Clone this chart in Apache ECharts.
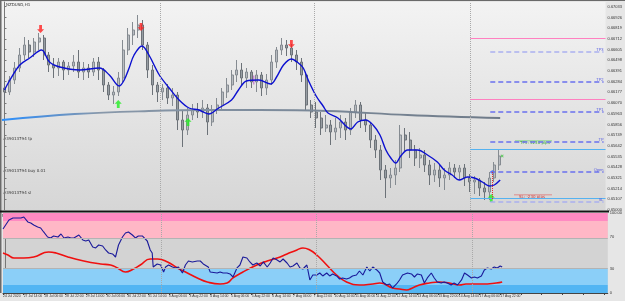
<!DOCTYPE html>
<html lang="en">
<head>
<meta charset="utf-8" />
<title>NZDUSD,H1</title>
<script src="https://cdn.jsdelivr.net/npm/echarts@6/dist/echarts.min.js"></script>
<style>
  html, body { margin: 0; padding: 0; background: #e6e6e6; }
  #chartmain { width: 625px; height: 301px; }
</style>
</head>
<body>
<div id="chartmain"></div>
<script>
// price bars (thinned H1 candles)
var opens = [0.6622,0.6618,0.6630,0.6642,0.6655,0.6665,0.6658,0.6668,0.6672,0.6655,
  0.6645,0.6642,0.6648,0.6640,0.6644,0.6648,0.6638,0.6642,0.6638,0.6648,
  0.6640,0.6625,0.6615,0.6618,0.6632,0.6660,0.6675,0.6680,0.6685,0.6665,
  0.6640,0.6625,0.6618,0.6622,0.6612,0.6615,0.6590,0.6580,0.6595,0.6600,
  0.6598,0.6602,0.6588,0.6600,0.6605,0.6618,0.6625,0.6635,0.6640,0.6632,
  0.6638,0.6628,0.6635,0.6622,0.6630,0.6648,0.6660,0.6665,0.6662,0.6655,
  0.6648,0.6635,0.6605,0.6598,0.6592,0.6582,0.6585,0.6578,0.6582,0.6588,
  0.6580,0.6598,0.6605,0.6590,0.6585,0.6570,0.6560,0.6540,0.6532,0.6535,
  0.6542,0.6575,0.6570,0.6560,0.6552,0.6555,0.6545,0.6535,0.6540,0.6532,
  0.6535,0.6542,0.6538,0.6542,0.6532,0.6528,0.6530,0.6522,0.6518,0.6532,
  0.6545];
var closes = [0.6618,0.6630,0.6642,0.6655,0.6665,0.6658,0.6668,0.6672,0.6655,0.6645,
  0.6642,0.6648,0.6640,0.6644,0.6648,0.6638,0.6642,0.6638,0.6648,0.6640,
  0.6625,0.6615,0.6618,0.6632,0.6660,0.6675,0.6680,0.6685,0.6665,0.6640,
  0.6625,0.6618,0.6622,0.6612,0.6615,0.6590,0.6580,0.6595,0.6600,0.6598,
  0.6602,0.6588,0.6600,0.6605,0.6618,0.6625,0.6635,0.6640,0.6632,0.6638,
  0.6628,0.6635,0.6622,0.6630,0.6648,0.6660,0.6665,0.6662,0.6655,0.6648,
  0.6635,0.6605,0.6598,0.6592,0.6582,0.6585,0.6578,0.6582,0.6588,0.6580,
  0.6598,0.6605,0.6590,0.6585,0.6570,0.6560,0.6540,0.6532,0.6535,0.6542,
  0.6575,0.6570,0.6560,0.6552,0.6555,0.6545,0.6535,0.6540,0.6532,0.6535,
  0.6542,0.6538,0.6542,0.6532,0.6528,0.6530,0.6522,0.6518,0.6532,0.6545,
  0.6554];
var lows = [0.6610,0.6615,0.6626,0.6638,0.6650,0.6652,0.6653,0.6660,0.6650,0.6638,
  0.6632,0.6634,0.6630,0.6635,0.6638,0.6632,0.6630,0.6632,0.6634,0.6630,
  0.6618,0.6610,0.6606,0.6614,0.6628,0.6655,0.6665,0.6672,0.6660,0.6632,
  0.6615,0.6608,0.6610,0.6606,0.6604,0.6580,0.6563,0.6575,0.6590,0.6592,
  0.6592,0.6575,0.6584,0.6596,0.6600,0.6612,0.6620,0.6628,0.6625,0.6622,
  0.6622,0.6618,0.6614,0.6615,0.6625,0.6642,0.6655,0.6654,0.6648,0.6640,
  0.6628,0.6600,0.6592,0.6582,0.6575,0.6578,0.6565,0.6570,0.6572,0.6570,
  0.6575,0.6592,0.6582,0.6578,0.6562,0.6552,0.6530,0.6512,0.6522,0.6525,
  0.6538,0.6558,0.6552,0.6544,0.6542,0.6538,0.6525,0.6528,0.6523,0.6520,
  0.6530,0.6532,0.6530,0.6524,0.6518,0.6516,0.6514,0.6510,0.6510,0.6528,
  0.6540];
var highs = [0.6630,0.6634,0.6648,0.6662,0.6673,0.6670,0.6672,0.6677,0.6675,0.6658,
  0.6652,0.6652,0.6650,0.6648,0.6655,0.6660,0.6648,0.6646,0.6652,0.6653,
  0.6642,0.6628,0.6624,0.6638,0.6670,0.6682,0.6688,0.6695,0.6690,0.6668,
  0.6645,0.6628,0.6626,0.6626,0.6622,0.6618,0.6600,0.6602,0.6606,0.6607,
  0.6610,0.6606,0.6605,0.6612,0.6622,0.6632,0.6640,0.6650,0.6647,0.6642,
  0.6640,0.6640,0.6638,0.6636,0.6655,0.6663,0.6672,0.6670,0.6666,0.6660,
  0.6652,0.6638,0.6610,0.6608,0.6598,0.6595,0.6590,0.6592,0.6595,0.6592,
  0.6602,0.6610,0.6608,0.6598,0.6588,0.6575,0.6565,0.6545,0.6542,0.6550,
  0.6585,0.6582,0.6578,0.6565,0.6562,0.6560,0.6550,0.6547,0.6545,0.6542,
  0.6548,0.6546,0.6545,0.6546,0.6536,0.6534,0.6532,0.6528,0.6538,0.6548,
  0.6560];
var slots = 122; // bar slots incl. empty space on the right

// moving averages (bar index, price)
var maIdx = [0,1.1,3.1,5.1,7.5,9.1,11.2,15.2,19.2,21.2,23.2,24.2,25.2,26.2,27.8,29.2,31.3,33.3,35.3,37.3,
  39.3,41.3,43.3,45.9,47.3,48.9,51.4,53.8,55.0,56.4,58.0,59.4,60.4,61.4,63.0,64.4,65.4,67.4,70.0,71.4,
  73.0,74.5,75.9,77.1,78.1,79.1,80.1,81.5,83.5,85.5,87.5,88.9,90.5,91.9,93.6,95.0,96.6,98.0,99.0,100.2];
var maVal = [0.6620,0.6630,0.6645,0.6652,0.6660,0.6648,0.6643,0.6640,0.6642,0.6635,0.6624,0.6630,0.6642,0.6655,0.6664,0.6655,0.6635,0.6622,0.6610,0.6602,
  0.6600,0.6596,0.6602,0.6610,0.6620,0.6629,0.6630,0.6626,0.6633,0.6645,0.6651,0.6647,0.6642,0.6630,0.6614,0.6604,0.6597,0.6592,0.6581,0.6588,
  0.6590,0.6585,0.6575,0.6560,0.6552,0.6547,0.6554,0.6560,0.6560,0.6555,0.6548,0.6540,0.6535,0.6530,0.6533,0.6532,0.6528,0.6524,0.6525,0.6530];
var slowIdx = [-0.5,14.2,29.2,41.3,51.4,65.4,81.5,100.2];
var slowVal = [0.6590,0.6596,0.6599,0.6600,0.6600,0.6599,0.6595,0.6592];

// signal arrows
var downIdx = [7.3,27.6,58.0];
var downVal = [0.6681,0.6683,0.6666];
var upIdx = [23.0,37.1,98.4];
var upVal = [0.6606,0.6588,0.6512];

// trade levels
var pinkLevels = [0.6672,0.6611];
var dashLevels = [0.6658,0.6628,0.6598,0.6568,0.6538,0.6508];
var dashNames = ['TP3','TP2','TP1','TP','Open','SL'];
var cyanLevels = [0.6561,0.6512];
var entryIdx = 98.6, entryPrice = 0.6538;
var separators = [31.46,62.6,94.17];

// RSI and its smoothing
var rsiIdx = [-0.5,0.7,1.5,3.1,3.7,4.5,5.1,5.7,6.5,7.1,7.7,8.5,9.1,9.7,10.6,11.2,11.8,12.6,13.2,13.8,
  14.8,15.6,16.2,16.8,17.6,18.2,18.8,19.6,20.2,20.8,21.6,22.2,22.8,23.6,24.2,24.8,25.6,26.2,26.8,27.6,
  27.8,28.6,28.8,29.2,29.6,29.8,30.6,31.3,31.9,32.3,32.9,33.7,34.3,34.9,35.7,36.3,36.9,37.7,38.7,39.3,
  39.9,40.9,41.3,42.7,43.3,43.9,44.7,45.3,45.9,46.7,47.3,47.9,48.7,49.3,49.9,50.7,51.4,52.0,52.8,53.4,
  54.0,54.8,55.4,56.0,56.8,57.4,58.0,58.8,59.4,60.0,60.8,61.4,62.0,62.8,63.4,64.0,64.8,65.4,66.0,66.8,
  67.4,68.0,68.8,69.4,70.0,70.8,71.4,72.1,72.9,73.5,74.1,74.9,75.5,76.1,76.9,77.5,78.1,78.9,79.5,80.1,
  81.1,81.9,82.5,83.1,83.9,84.5,85.1,85.9,86.5,87.1,87.9,88.5,89.1,89.9,90.5,91.2,92.0,92.6,93.2,94.0,
  94.6,95.2,96.0,96.6,97.2,98.0,98.6,99.2,99.8,100.2];
var rsiVal = [80,91.3,93.8,93.8,95,88.8,87.5,85,82.5,81.3,76.3,70,68.8,71.3,70,73.8,68.8,70,68.8,68.8,
  72.5,66.3,65,66.3,57.5,56.3,60,58.8,53.8,50,48.8,45,60,70,75,76.3,72.5,68.8,71.3,71.3,
  68.8,65,61.3,53.8,50,32.5,36.3,35,26.3,32.5,35,32.5,31.3,32.5,25,35,40,38.8,40,40,
  36.3,32.5,26.3,25,26.3,25,25,23.8,20,31.3,35,45,43.8,38.8,35,37.5,33.8,38.8,32.5,37.5,
  43.8,41.3,38.8,42.5,37.5,32.5,33.8,37.5,31.3,30,35,16.3,22.5,22.5,25,21.3,25,21.3,23.8,21.3,
  17.5,18.8,17.5,18.8,21.3,22.5,27.5,22.5,32.5,27.5,32.5,28.8,25,13.8,10,11.3,6.3,11.3,16.3,22.5,
  25,23.8,20,23.8,22.5,12.5,18.8,25,18.8,13.8,12.5,13.8,12.5,10,12.5,10,16.3,25,22.5,18.8,
  20,18.8,21.3,28.8,31.3,30,32.5,31.3,33.8,32.5];
var sigIdx = [-0.5,0.5,1.7,3.7,5.7,8.7,10.2,12.6,15.8,19.2,21.2,22.6,24.2,25.8,27.2,29.2,30.7,32.7,34.7,36.7,
  38.7,40.7,43.3,44.7,45.9,47.9,50.7,52.8,54.8,56.8,58.8,60.0,61.4,62.8,64.8,66.8,68.8,71.4,74.1,75.5,
  78.1,79.5,80.9,82.1,83.5,85.5,87.5,89.5,91.6,92.9,96.2,99.0,100.2];
var sigVal = [50,47.5,43.8,43.8,45,51.3,50,45,40,36.3,35,31.3,26.3,30,35,42.5,42.5,38.8,31.3,25,
  18.8,13.8,11.3,12.5,18.8,26.3,35,40,43.8,48.8,53.8,56.3,53.8,47.5,35,22.5,13.8,10,11.3,12.5,
  6.3,5,3.8,6.3,10,12.5,13.8,12.5,10,11.3,11.3,12.5,13.8];

// bottom time labels, one every 16 bars
var timeLabels = ['24 Jul 2020','27 Jul 14:00','28 Jul 06:00','28 Jul 22:00','29 Jul 14:00','30 Jul 06:00',
  '30 Jul 22:00','31 Jul 14:00','3 Aug 06:00','3 Aug 22:00','4 Aug 14:00','5 Aug 06:00','5 Aug 22:00',
  '6 Aug 14:00','7 Aug 06:00','7 Aug 22:00','10 Aug 14:00','11 Aug 06:00','11 Aug 22:00','12 Aug 14:00',
  '13 Aug 06:00','13 Aug 22:00','14 Aug 14:00','17 Aug 06:00','17 Aug 22:00'];
var labelStep = 4.18;

function pairs(xs, ys) { return xs.map(function (x, i) { return [x, ys[i]]; }); }

var cats = [], candles = [];
for (var i = 0; i < slots; i++) cats.push(String(i));
for (var i = 0; i < opens.length; i++) candles.push([opens[i], closes[i], lows[i], highs[i]]);

var sepLines = separators.map(function (s) { return { xAxis: s }; });

var levelLines = [];
pinkLevels.forEach(function (p) {
  levelLines.push([{ coord: [94.17, p], lineStyle: { color: '#ff80c0', width: 1.2, type: 'solid' } }, { coord: [slots - 0.5, p] }]);
});
cyanLevels.forEach(function (p) {
  levelLines.push([{ coord: [94.17, p], lineStyle: { color: '#55b2f0', width: 1.2, type: 'solid' } }, { coord: [slots - 0.5, p] }]);
});
dashLevels.forEach(function (p, k) {
  var light = (k === 0 || k === dashLevels.length - 1);
  levelLines.push([{ coord: [98.2, p], name: dashNames[k],
    lineStyle: { color: light ? '#aab0f0' : '#6a70ee', width: 1.5, type: [5, 3] },
    label: { show: true, position: 'insideEndTop', formatter: '{b}', fontSize: 4, color: '#5a60e0', distance: 0 } },
    { coord: [121.1, p] }]);
});
levelLines.push([{ coord: [entryIdx, entryPrice], lineStyle: { color: '#e03030', width: 1, type: 'dotted' } }, { coord: [entryIdx, 0.6510] }]);

var chart = echarts.init(document.getElementById('chartmain'), null, { renderer: 'canvas' });
var txt = { fontFamily: 'DejaVu Sans', fontSize: 4, fill: '#333' };

chart.setOption({
  animation: false,
  backgroundColor: '#e6e6e6',
  grid: [
    { left: 2, top: 2, width: 607, height: 208, show: true, borderWidth: 0,
      backgroundColor: new echarts.graphic.LinearGradient(0, 0, 0, 1, [{ offset: 0, color: '#f3f3f3' }, { offset: 1, color: '#d6d6d6' }]) },
    { left: 2, top: 213, width: 607, height: 80, show: true, borderWidth: 0, backgroundColor: '#d3d3d3' }
  ],
  xAxis: [
    { type: 'category', gridIndex: 0, data: cats, boundaryGap: true, show: false },
    { type: 'value', gridIndex: 0, min: -0.5, max: slots - 0.5, show: false },
    { type: 'value', gridIndex: 1, min: -0.5, max: slots - 0.5, interval: labelStep, position: 'bottom',
      splitLine: { show: false },
      axisLine: { show: true, lineStyle: { color: '#444', width: 1 } },
      axisTick: { show: true, length: 2, lineStyle: { color: '#444' } },
      axisLabel: { show: true, fontSize: 3.4, color: '#333', align: 'left', margin: 2, showMaxLabel: false,
        formatter: function (v) { var k = Math.round((v + 0.5) / labelStep); return timeLabels[k] || ''; } } }
  ],
  yAxis: [
    { type: 'value', gridIndex: 0, position: 'right', min: 0.6500, max: 0.6708, interval: 0.00107, scale: true,
      splitLine: { show: false },
      axisLine: { show: true, lineStyle: { color: '#777' } },
      axisTick: { show: true, length: 2, lineStyle: { color: '#777' } },
      axisLabel: { fontSize: 4, color: '#333', margin: 2, showMaxLabel: false, formatter: function (v) { return v.toFixed(5); } } },
    { type: 'value', gridIndex: 1, position: 'right', min: 0, max: 100, interval: 10,
      splitLine: { show: false },
      axisLine: { show: true, lineStyle: { color: '#777' } },
      axisTick: { show: false },
      axisLabel: { fontSize: 4, color: '#333', margin: 2,
        formatter: function (v) { return v === 100 ? '100.00' : (v === 70 || v === 30 || v === 0) ? String(v) : ''; } } }
  ],
  series: [
    { type: 'candlestick', xAxisIndex: 0, yAxisIndex: 0, data: candles, barWidth: 2.5,
      itemStyle: { color: '#b9bdc2', color0: '#989ea4', borderColor: '#858b91', borderColor0: '#6c7278', borderWidth: 1 },
      markLine: { silent: true, symbol: 'none', data: [{ yAxis: closes[closes.length - 1] }],
        lineStyle: { opacity: 0 },
        label: { show: true, position: 'end', distance: 3, fontSize: 4, color: '#fff', backgroundColor: '#000', padding: [1, 2],
          formatter: function (p) { return p.value.toFixed(5); } } } },
    { type: 'line', xAxisIndex: 1, yAxisIndex: 0, data: pairs(slowIdx, slowVal), smooth: 0.4, symbol: 'none',
      lineStyle: { width: 1.8, color: new echarts.graphic.LinearGradient(0, 0, 1, 0, [
        { offset: 0, color: '#2a90ff' }, { offset: 0.08, color: '#4c8fdc' }, { offset: 0.2, color: '#8898aa' }, { offset: 1, color: '#6e7a88' }]) },
      markLine: { silent: true, symbol: 'none', data: sepLines, label: { show: false },
        lineStyle: { color: '#a9a9a9', type: 'dotted', width: 1 } } },
    { type: 'line', xAxisIndex: 1, yAxisIndex: 0, data: pairs(maIdx, maVal), smooth: 0.35, symbol: 'none',
      lineStyle: { width: 1.4, color: '#0c10d0' } },
    { type: 'line', xAxisIndex: 1, yAxisIndex: 0, data: [], symbol: 'none',
      markLine: { silent: true, symbol: 'none', data: levelLines, label: { show: false } } },
    { type: 'scatter', xAxisIndex: 1, yAxisIndex: 0, data: pairs(downIdx, downVal),
      symbol: 'path://M3,0 L7,0 L7,6 L10,6 L5,11 L0,6 L3,6 Z', symbolSize: [7, 8], itemStyle: { color: '#ff2020' } },
    { type: 'scatter', xAxisIndex: 1, yAxisIndex: 0, data: pairs(upIdx, upVal),
      symbol: 'path://M5,0 L10,5 L7,5 L7,11 L3,11 L3,5 L0,5 Z', symbolSize: [7, 8], itemStyle: { color: '#22ee22' } },
    { type: 'scatter', xAxisIndex: 1, yAxisIndex: 0, data: [[entryIdx, entryPrice]],
      symbol: 'diamond', symbolSize: 4, itemStyle: { color: '#2050ff' } },
    { type: 'scatter', xAxisIndex: 1, yAxisIndex: 0, data: [[50.4, 0.6630]],
      symbol: 'rect', symbolSize: [1, 9], itemStyle: { color: '#b040c0' } },
    { type: 'scatter', xAxisIndex: 1, yAxisIndex: 0, data: [[100.6, 0.6554]],
      symbol: 'path://M0,2 L2,0 L5,3 L8,0 L10,2 L7,5 L10,8 L8,10 L5,7 L2,10 L0,8 L3,5 Z', symbolSize: 3, itemStyle: { color: '#30c030' } },
    { type: 'line', xAxisIndex: 2, yAxisIndex: 1, data: pairs(sigIdx, sigVal), smooth: 0.5, symbol: 'none',
      lineStyle: { width: 1.6, color: '#f01010' }, z: 3,
      markArea: { silent: true, data: [
        [{ yAxis: 90, itemStyle: { color: '#ff8ac2' } }, { yAxis: 100 }],
        [{ yAxis: 68, itemStyle: { color: '#ffb7c6' } }, { yAxis: 90 }],
        [{ yAxis: 10, itemStyle: { color: '#8bcff8' } }, { yAxis: 31 }],
        [{ yAxis: 0, itemStyle: { color: '#52b5f3' } }, { yAxis: 10 }]
      ] },
      markLine: { silent: true, symbol: 'none', label: { show: false },
        data: [{ yAxis: 68, lineStyle: { color: '#b3b3b3', type: 'solid', width: 1 } },
               { yAxis: 31, lineStyle: { color: '#b3b3b3', type: 'solid', width: 1 } }].concat(sepLines),
        lineStyle: { color: '#a9a9a9', type: 'dotted', width: 1 } } },
    { type: 'line', xAxisIndex: 2, yAxisIndex: 1, data: pairs(rsiIdx, rsiVal), symbol: 'none', z: 4,
      lineStyle: { width: 1.1, color: '#1a1a9a' } }
  ],
  graphic: [
    { type: 'rect', shape: { x: 0, y: 0, width: 625, height: 1 }, style: { fill: '#6a6a6a' } },
    { type: 'rect', shape: { x: 0, y: 0, width: 1.5, height: 293 }, style: { fill: '#6a6a6a' } },
    { type: 'rect', shape: { x: 0, y: 210.5, width: 609, height: 2 }, style: { fill: '#151515' } },
    { type: 'text', x: 6, y: 3, style: Object.assign({ text: 'NZDUSD,H1' }, txt) },
    { type: 'text', x: 3, y: 137, style: Object.assign({ text: '#39013794 tp' }, txt) },
    { type: 'text', x: 3, y: 168.5, style: Object.assign({ text: '#39013794 buy 0.01' }, txt) },
    { type: 'text', x: 3, y: 190.5, style: Object.assign({ text: '#39013794 sl' }, txt) },
    { type: 'text', x: 2, y: 214, style: Object.assign({ text: 'RSI(14) 61.2875' }, txt) },
    { type: 'rect', shape: { x: 515, y: 140.5, width: 37, height: 0.8 }, style: { fill: '#6ccf6c' } },
    { type: 'text', x: 520, y: 141.2, style: { text: 'TP1: 5250 pips', fontFamily: 'DejaVu Sans', fontSize: 4, fill: '#3aa83a' } },
    { type: 'rect', shape: { x: 514, y: 194.5, width: 38, height: 0.8 }, style: { fill: '#e07070' } },
    { type: 'text', x: 519, y: 195.2, style: { text: 'SL: -230 pips', fontFamily: 'DejaVu Sans', fontSize: 4, fill: '#d03a3a' } }
  ]
});
</script>
</body>
</html>
